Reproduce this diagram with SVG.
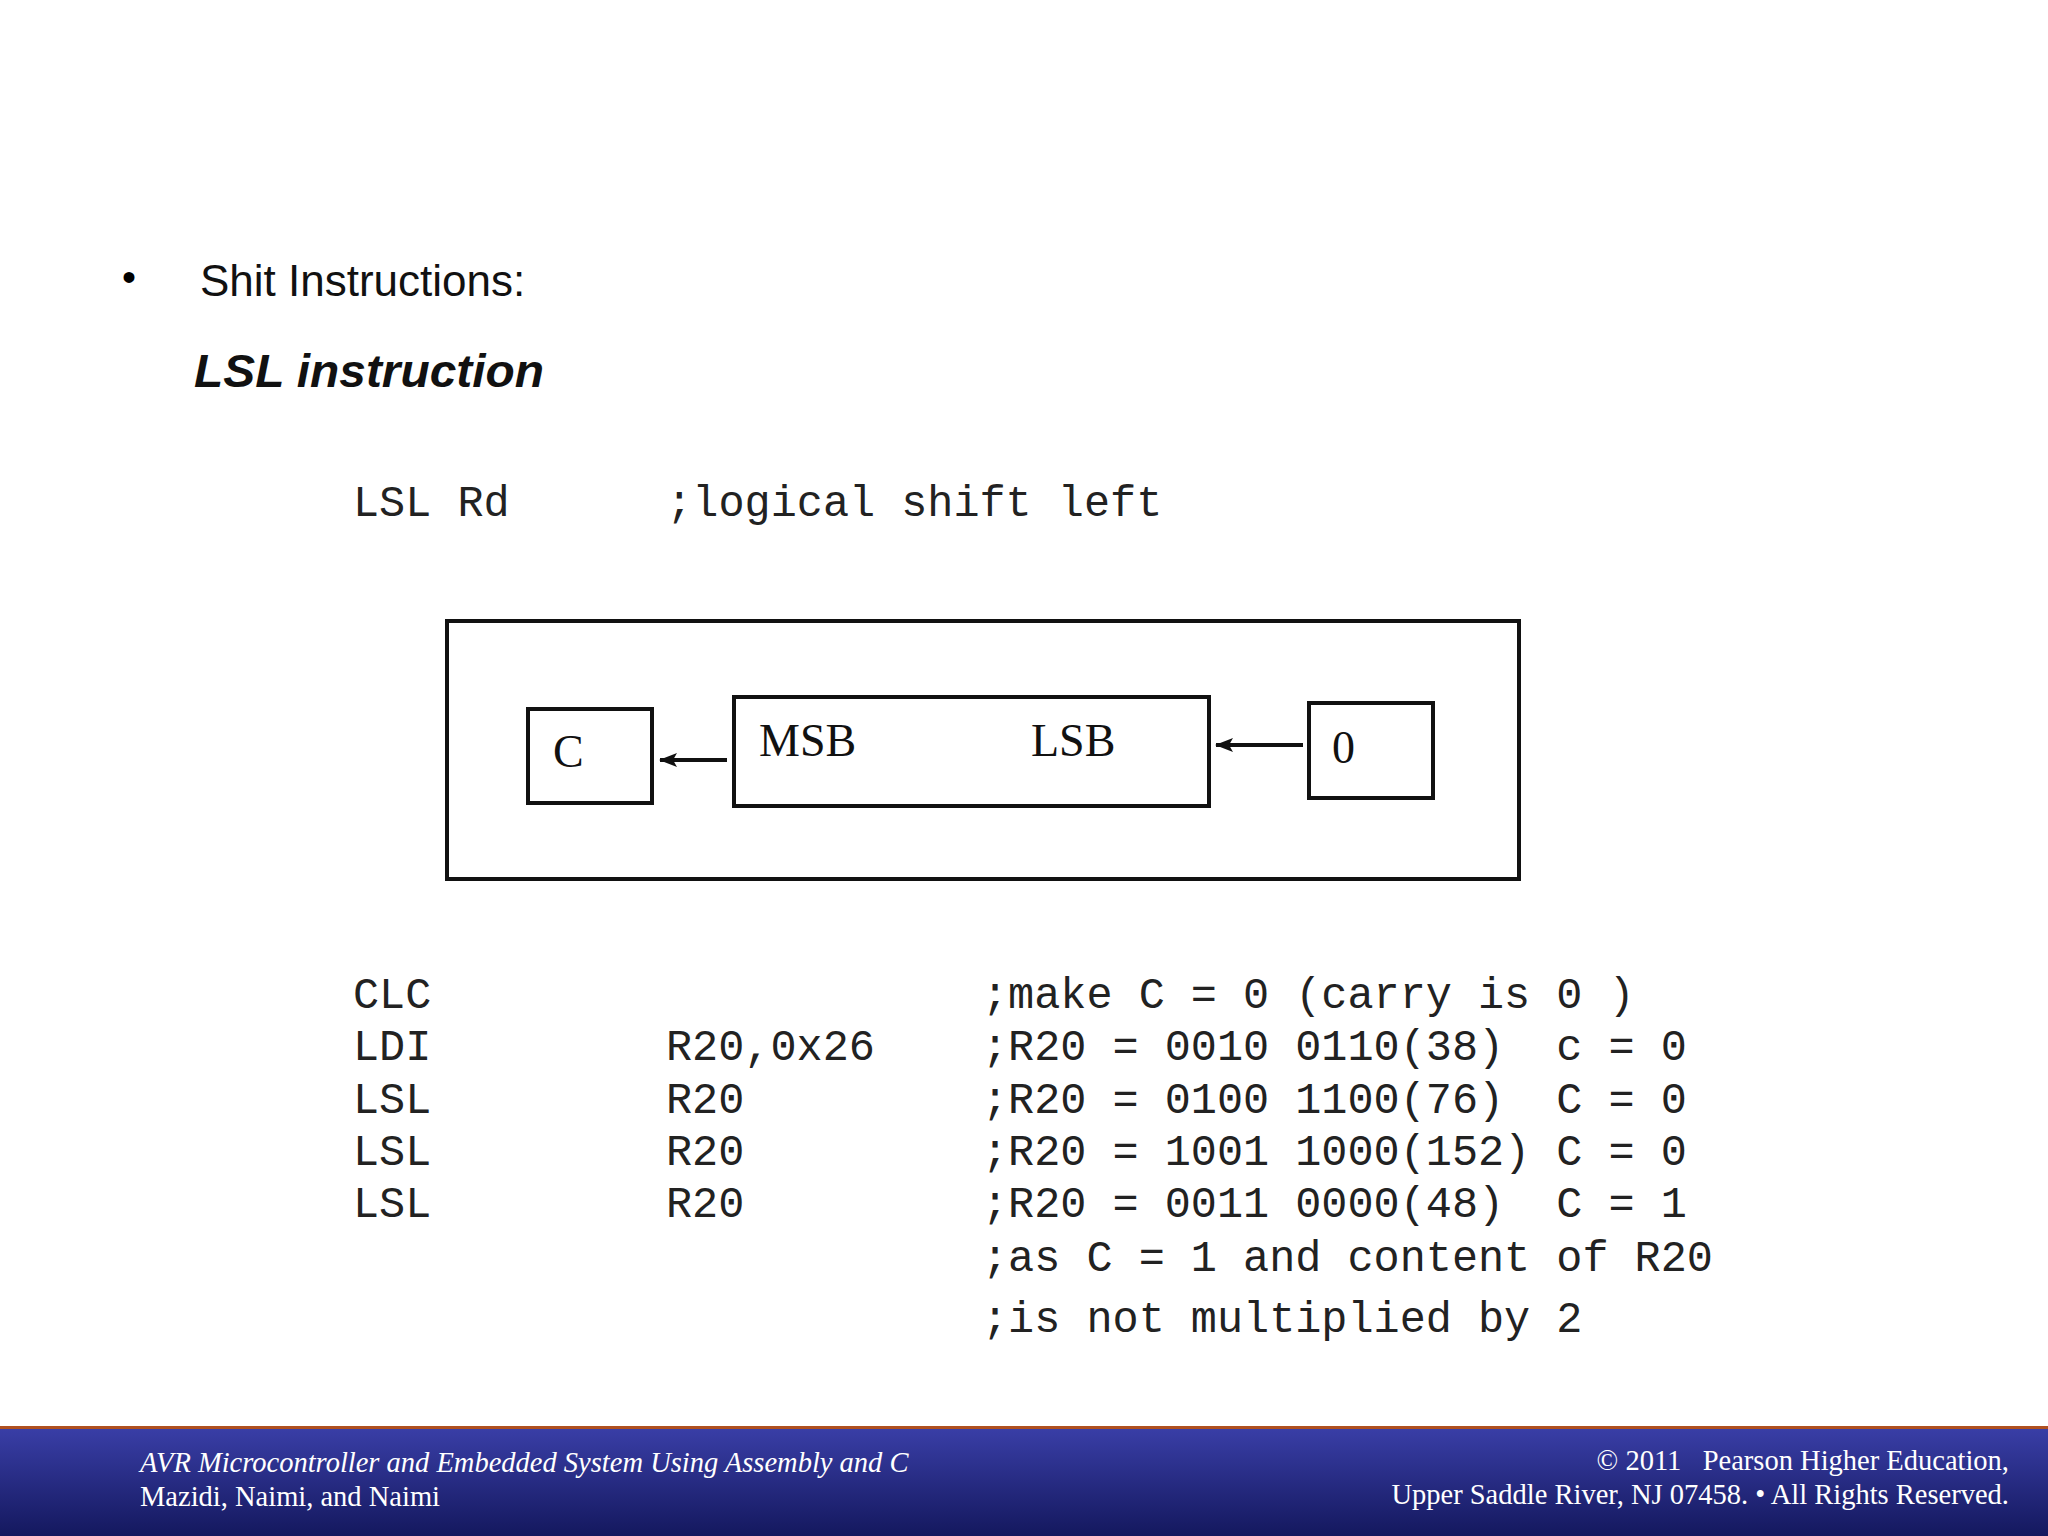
<svg xmlns="http://www.w3.org/2000/svg" width="2048" height="1536" viewBox="0 0 2048 1536">
<defs>
<linearGradient id="bar" x1="0" y1="0" x2="0" y2="1"><stop offset="0" stop-color="#3a3fa8"/><stop offset="1" stop-color="#14185e"/></linearGradient>
<marker id="ah" markerWidth="18" markerHeight="14" refX="17" refY="7" orient="auto" markerUnits="userSpaceOnUse" viewBox="0 0 18 14"><path d="M0,0 L18,7 L0,14 L4,7 Z" fill="#111"/></marker>
</defs>
<style>
.mono{font-family:"Liberation Mono",monospace;font-size:43.5px;fill:#222;white-space:pre}
.ser{font-family:"Liberation Serif",serif;font-size:46px;fill:#111}
.box{fill:none;stroke:#111;stroke-width:4}
.ft{font-family:"Liberation Serif",serif;font-size:28.5px;fill:#fff}
</style>
<rect width="2048" height="1536" fill="#fff"/>
<text x="122" y="291" font-family="Liberation Sans,sans-serif" font-size="40">•</text>
<text x="200" y="296" font-family="Liberation Sans,sans-serif" font-size="44" fill="#111">Shit Instructions:</text>
<text x="194" y="387" font-family="Liberation Sans,sans-serif" font-size="46" font-weight="bold" font-style="italic" fill="#111" textLength="350" lengthAdjust="spacingAndGlyphs">LSL instruction</text>
<text class="mono" x="353" y="516" xml:space="preserve">LSL Rd      ;logical shift left</text>
<g id="frame"><rect class="box" x="447" y="621" width="1072" height="258"/></g>
<g id="c"><rect class="box" x="528" y="709" width="124" height="94"/><text class="ser" x="553" y="767">C</text></g>
<g id="reg"><rect class="box" x="734" y="697" width="475" height="109"/><text class="ser" x="759" y="756">MSB</text><text class="ser" x="1031" y="756">LSB</text></g>
<g id="zero"><rect class="box" x="1309" y="703" width="124" height="95"/><text class="ser" x="1332" y="763">0</text></g>
<g id="connectors" stroke="#111" stroke-width="4">
<line x1="727" y1="760" x2="660" y2="760" marker-end="url(#ah)"/>
<line x1="1303" y1="745" x2="1216" y2="745" marker-end="url(#ah)"/>
</g>
<g class="mono" xml:space="preserve">
<text class="mono" x="353" y="1008">CLC</text>
<text class="mono" x="353" y="1060">LDI</text><text class="mono" x="666" y="1060">R20,0x26</text>
<text class="mono" x="353" y="1113">LSL</text><text class="mono" x="666" y="1113">R20</text>
<text class="mono" x="353" y="1165">LSL</text><text class="mono" x="666" y="1165">R20</text>
<text class="mono" x="353" y="1217">LSL</text><text class="mono" x="666" y="1217">R20</text>
<text class="mono" x="982" y="1008">;make C = 0 (carry is 0 )</text>
<text class="mono" x="982" y="1060">;R20 = 0010 0110(38)  c = 0</text>
<text class="mono" x="982" y="1113">;R20 = 0100 1100(76)  C = 0</text>
<text class="mono" x="982" y="1165">;R20 = 1001 1000(152) C = 0</text>
<text class="mono" x="982" y="1217">;R20 = 0011 0000(48)  C = 1</text>
<text class="mono" x="982" y="1271">;as C = 1 and content of R20</text>
<text class="mono" x="982" y="1332">;is not multiplied by 2</text>
</g>
<rect x="0" y="1426" width="2048" height="110" fill="url(#bar)"/>
<rect x="0" y="1426" width="2048" height="3" fill="#b05020"/>
<text class="ft" x="140" y="1472" font-style="italic">AVR Microcontroller and Embedded System Using Assembly and C</text>
<text class="ft" x="140" y="1506">Mazidi, Naimi, and Naimi</text>
<text class="ft" x="2009" y="1470" text-anchor="end" xml:space="preserve">© 2011   Pearson Higher Education,</text>
<text class="ft" x="2009" y="1504" text-anchor="end">Upper Saddle River, NJ 07458. • All Rights Reserved.</text>
</svg>
